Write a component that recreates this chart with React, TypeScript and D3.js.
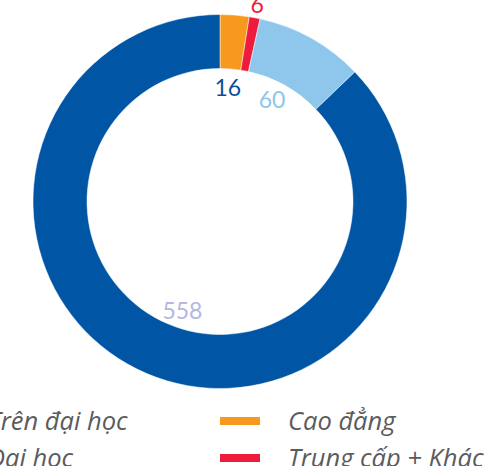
import React from "react";
import * as d3 from "d3";

const categories = ["Cao đẳng", "Trung cấp + Khác", "Trên đại học", "Đại học"];
const values = [16, 6, 60, 558];
const colors = ["#f7991f", "#ed1b3c", "#8fc6ec", "#0155a5"];
const labelColors = ["#0c4f9c", "#ed1b3c", "#8fc6ec", "#b4b7e0"];
const legendOrder = ["Trên đại học", "Đại học", "Cao đẳng", "Trung cấp + Khác"];

const W = 484;
const H = 466;
const cx = 220;
const cy = 201.5;
const outerR = 187;
const innerR = 133;

export default function App() {
  const pie = d3.pie<number>().sort(null).value((d) => d)(values);
  const arc = d3.arc<d3.PieArcDatum<number>>().innerRadius(innerR).outerRadius(outerR);

  return (
    <svg width={W} height={H} style={{ position: "absolute", left: 0, top: 0 }}>
      <g transform={`translate(${cx},${cy})`}>
        {pie.map((p, i) => (
          <path key={i} d={arc(p) || ""} fill={colors[i]} stroke="#fff" strokeWidth={0.5} />
        ))}
        {pie.map((p, i) => {
          const span = p.endAngle - p.startAngle;
          const outside = values[i] < 10;
          const r = outside ? 200.5 : 115;
          const shift = outside ? 0 : Math.min((4 * Math.PI) / 180, span * 0.07);
          const a = (p.startAngle + p.endAngle) / 2 - shift;
          const x = r * Math.sin(a);
          const y = -r * Math.cos(a);
          return (
            <text
              key={"l" + i}
              x={x}
              y={y}
              textAnchor="middle"
              dominantBaseline="central"
              fontFamily="Lato, sans-serif"
              fontSize={23}
              fill={labelColors[i]}
            >
              {values[i]}
            </text>
          );
        })}
      </g>
      {legendOrder.map((name, j) => {
        const i = categories.indexOf(name);
        const col = Math.floor(j / 2);
        const row = j % 2;
        const mx = 220 + (col - 1) * 300;
        const my = 420 + row * 37;
        return (
          <g key={"lg" + j}>
            <rect x={mx} y={my - 3} width={40} height={8} fill={colors[i]} />
            <text
              x={mx + 68}
              y={my}
              dominantBaseline="central"
              fontFamily="'Open Sans', sans-serif"
              fontStyle="italic"
              fontSize={25.5}
              fill="#5b5b5d"
            >
              {name}
            </text>
          </g>
        );
      })}
    </svg>
  );
}
